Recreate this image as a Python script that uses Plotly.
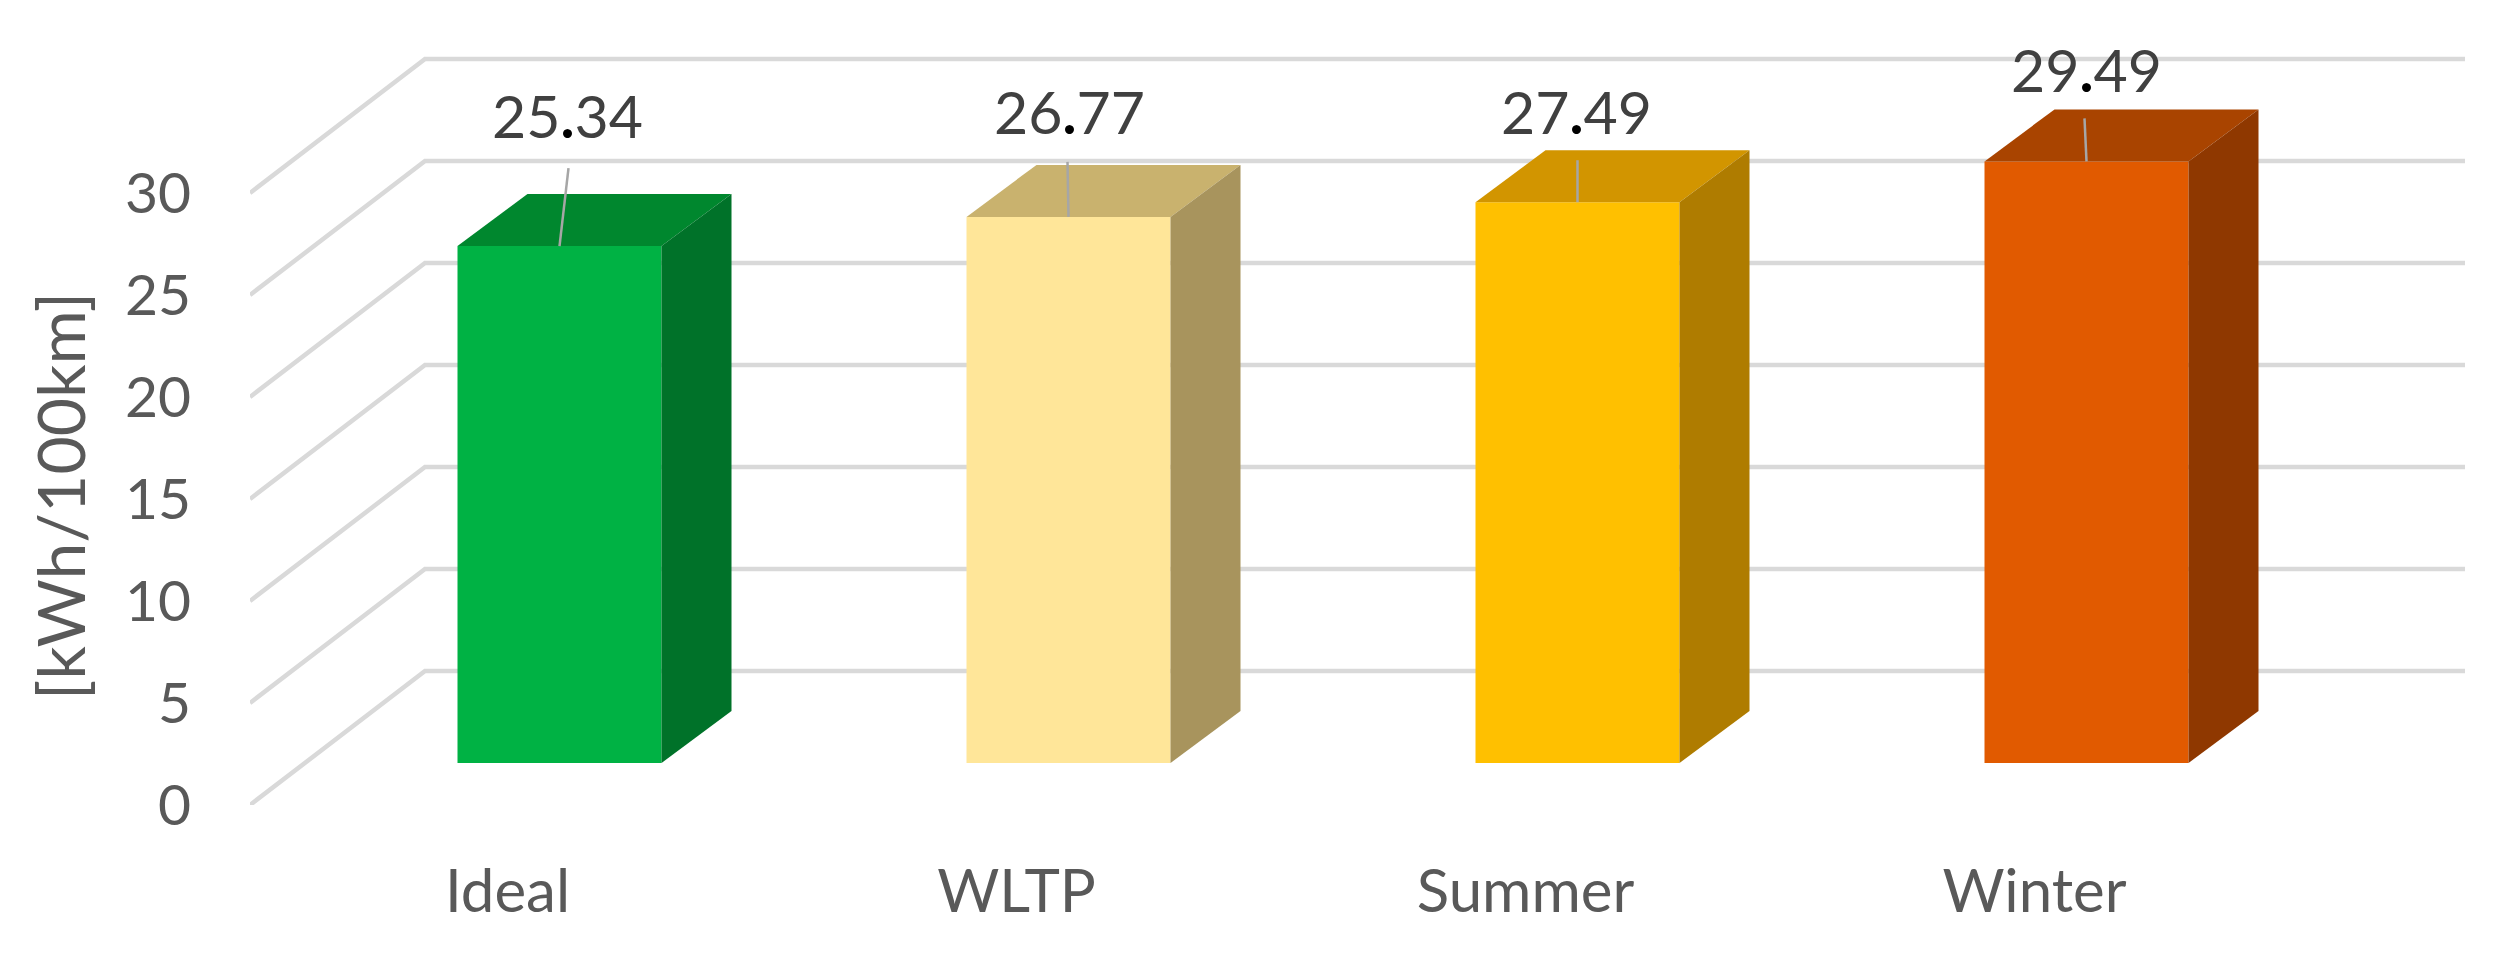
import plotly.graph_objects as go

CATEGORIES = ["Ideal", "WLTP", "Summer", "Winter"]
VALUES = [25.34, 26.77, 27.49, 29.49]
Y_TICKS = [0, 5, 10, 15, 20, 25, 30]

FRONT_COLORS = ["#00B244", "#FFE699", "#FFC000", "#E15A00"]
TOP_COLORS = ["#00872E", "#C9B26E", "#D29500", "#A94400"]
SIDE_COLORS = ["#007229", "#A8945D", "#AF7C00", "#8F3800"]

# scale of the axes: pixels for one category / one kWh
PX_X = 509
PX_Y = 20.4

BAR_WIDTH = 204 / PX_X
BAR_BASE = 42 / PX_Y
BAR_DEPTH_X = 70 / PX_X
BAR_DEPTH_Y = 52 / PX_Y
GRID_LEFT = -309.5 / PX_X
GRID_RIGHT = 1905.5 / PX_X
GRID_DEPTH_X = 175 / PX_X
GRID_DEPTH_Y = 134 / PX_Y
TICK_SHIFT = -52 / PX_X

# offsets of labels and leaders above the bar tops, in pixels
LABEL_DX = [8, 1, -1, 0]
LABEL_DY = [131, 105, 91, 92]
LEADER_DX = [9, -1, 0, -2]
LEADER_LEN = [78, 55, 42, 43]

FONT = "Lato, Carlito, sans-serif"
TEXT_GREY = "#595959"

fig = go.Figure()

# front faces
fig.add_trace(go.Bar(
    x=list(range(len(VALUES))),
    y=VALUES,
    base=BAR_BASE,
    width=BAR_WIDTH,
    marker=dict(color=FRONT_COLORS, line=dict(width=0)),
    hoverinfo='skip',
    showlegend=False
))

# top and side faces
for i, v in enumerate(VALUES):
    left = i - BAR_WIDTH / 2
    right = i + BAR_WIDTH / 2
    top = BAR_BASE + v

    fig.add_trace(go.Scatter(
        x=[left, left + BAR_DEPTH_X, right + BAR_DEPTH_X, right, left],
        y=[top, top + BAR_DEPTH_Y, top + BAR_DEPTH_Y, top, top],
        mode='lines', fill='toself', fillcolor=TOP_COLORS[i],
        line=dict(width=0), hoverinfo='skip', showlegend=False
    ))
    fig.add_trace(go.Scatter(
        x=[right, right + BAR_DEPTH_X, right + BAR_DEPTH_X, right, right],
        y=[BAR_BASE, BAR_BASE + BAR_DEPTH_Y, top + BAR_DEPTH_Y, top, BAR_BASE],
        mode='lines', fill='toself', fillcolor=SIDE_COLORS[i],
        line=dict(width=0), hoverinfo='skip', showlegend=False
    ))

    # leader line
    fig.add_trace(go.Scatter(
        x=[i, i + LEADER_DX[i] / PX_X],
        y=[top, top + LEADER_LEN[i] / PX_Y],
        mode='lines', line=dict(color="#A6A6A6", width=2.5),
        hoverinfo='skip', showlegend=False
    ))

    whole, frac = f"{v:.2f}".split(".")
    fig.add_annotation(
        x=i + LABEL_DX[i] / PX_X, y=top + LABEL_DY[i] / PX_Y,
        text=f"{whole}<b><span style='color:#000000'>.</span></b>{frac}",
        showarrow=False, xanchor='center', yanchor='middle',
        font=dict(family=FONT, size=59, color="#404040")
    )

# floor/back wall lines, one per tick
for t in Y_TICKS:
    fig.add_shape(
        type='path', layer='below', xref='x', yref='y',
        path=(f"M {GRID_LEFT} {t} "
              f"L {GRID_LEFT + GRID_DEPTH_X} {t + GRID_DEPTH_Y} "
              f"L {GRID_RIGHT} {t + GRID_DEPTH_Y}"),
        line=dict(color="#D9D9D9", width=4.5)
    )

fig.add_annotation(
    xref='paper', yref='paper', x=-0.0855, y=0.389,
    text="[kWh/100km]", textangle=-90, showarrow=False,
    xanchor='center', yanchor='middle',
    font=dict(family=FONT, size=66, color=TEXT_GREY)
)

fig.update_layout(
    width=2501, height=960,
    margin=dict(l=250, r=31, t=10, b=155),
    paper_bgcolor='white',
    plot_bgcolor='white',
    showlegend=False,
    hovermode=False,
    xaxis=dict(
        range=[GRID_LEFT, GRID_LEFT + 2220 / PX_X],
        tickvals=[i + TICK_SHIFT for i in range(len(CATEGORIES))],
        ticktext=CATEGORIES,
        tickfont=dict(family=FONT, size=60, color=TEXT_GREY),
        showgrid=False, zeroline=False, showline=False, ticks='',
        ticklabelstandoff=46
    ),
    yaxis=dict(
        range=[0, 795 / PX_Y],
        tickvals=Y_TICKS,
        tickfont=dict(family=FONT, size=57, color=TEXT_GREY),
        showgrid=False, zeroline=False, showline=False, ticks='',
        ticklabelstandoff=58
    )
)

fig.write_html("out.html", config=dict(displayModeBar=False),
               post_script="document.body.style.margin='0';")
